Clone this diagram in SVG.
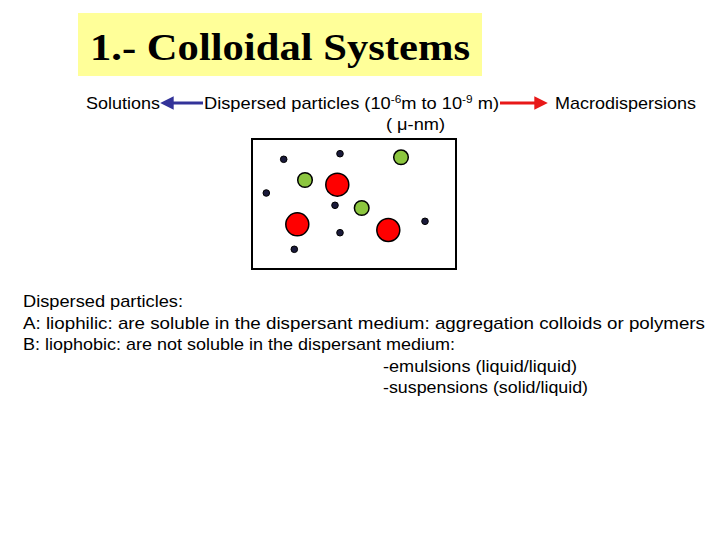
<svg xmlns="http://www.w3.org/2000/svg" width="720" height="540" viewBox="0 0 720 540">
<defs>
<style>
.t{font-family:"Liberation Sans",Arial,sans-serif;font-size:17px;fill:#000}
.dk{fill:#1a1a3a;stroke:#000;stroke-width:1}
.gr{fill:#8cc63f;stroke:#000;stroke-width:1.5}
.rd{fill:#ff0000;stroke:#000;stroke-width:1.5}
</style>
<marker id="hb" viewBox="0 0 10 10" refX="2" refY="5" markerWidth="4.5" markerHeight="4.5" orient="auto" markerUnits="strokeWidth"><path d="M0,0 L10,5 L0,10 z" fill="#333399"/></marker>
<marker id="hr" viewBox="0 0 10 10" refX="2" refY="5" markerWidth="4.5" markerHeight="4.5" orient="auto" markerUnits="strokeWidth"><path d="M0,0 L10,5 L0,10 z" fill="#e81818"/></marker>
</defs>
<rect width="720" height="540" fill="#fff"/>
<g id="title">
<rect x="78" y="13" width="404" height="63" fill="#ffff99"/>
<text x="90" y="60" style="font-family:'Liberation Serif','Times New Roman',serif;font-size:38px;font-weight:bold" textLength="380" lengthAdjust="spacingAndGlyphs">1.- Colloidal Systems</text>
</g>
<g id="solutions"><text class="t" x="86" y="109" textLength="74" lengthAdjust="spacingAndGlyphs">Solutions</text></g>
<g id="dispersed">
<text class="t" x="204" y="109" textLength="295" lengthAdjust="spacingAndGlyphs">Dispersed particles (10<tspan dy="-6" font-size="11">-6</tspan><tspan dy="6">m to 10</tspan><tspan dy="-6" font-size="11">-9</tspan><tspan dy="6"> m)</tspan></text>
<text class="t" x="386" y="130" textLength="59" lengthAdjust="spacingAndGlyphs">( μ-nm)</text>
</g>
<g id="macro"><text class="t" x="555" y="109" textLength="141" lengthAdjust="spacingAndGlyphs">Macrodispersions</text></g>
<g id="connectors">
<line x1="203" y1="103" x2="171" y2="103" stroke="#333399" stroke-width="3" marker-end="url(#hb)"/>
<line x1="500" y1="103" x2="537" y2="103" stroke="#e81818" stroke-width="3" marker-end="url(#hr)"/>
</g>
<g id="box">
<rect x="252" y="139" width="204" height="130" fill="#fff" stroke="#000" stroke-width="2"/>
<circle class="dk" cx="283.7" cy="159.3" r="3.3"/>
<circle class="dk" cx="340" cy="153.7" r="3.3"/>
<circle class="dk" cx="266.3" cy="193" r="3.3"/>
<circle class="dk" cx="335" cy="205.3" r="3.3"/>
<circle class="dk" cx="340" cy="232.7" r="3.3"/>
<circle class="dk" cx="294.3" cy="249.3" r="3.3"/>
<circle class="dk" cx="425" cy="221.3" r="3.3"/>
<circle class="gr" cx="401" cy="157.3" r="7.3"/>
<circle class="gr" cx="305" cy="180" r="7.3"/>
<circle class="gr" cx="361.7" cy="208" r="7.3"/>
<circle class="rd" cx="337.3" cy="184.7" r="11.5"/>
<circle class="rd" cx="297.3" cy="224.3" r="11.5"/>
<circle class="rd" cx="388.3" cy="230" r="11.5"/>
</g>
<g id="notes">
<text class="t" x="23" y="307" textLength="160" lengthAdjust="spacingAndGlyphs">Dispersed particles:</text>
<text class="t" x="23" y="329" textLength="682" lengthAdjust="spacingAndGlyphs">A: liophilic: are soluble in the dispersant medium: aggregation colloids or polymers</text>
<text class="t" x="23" y="350" textLength="432" lengthAdjust="spacingAndGlyphs">B: liophobic: are not soluble in the dispersant medium:</text>
<text class="t" x="383" y="372" textLength="194" lengthAdjust="spacingAndGlyphs">-emulsions (liquid/liquid)</text>
<text class="t" x="383" y="393" textLength="205" lengthAdjust="spacingAndGlyphs">-suspensions (solid/liquid)</text>
</g>
</svg>
